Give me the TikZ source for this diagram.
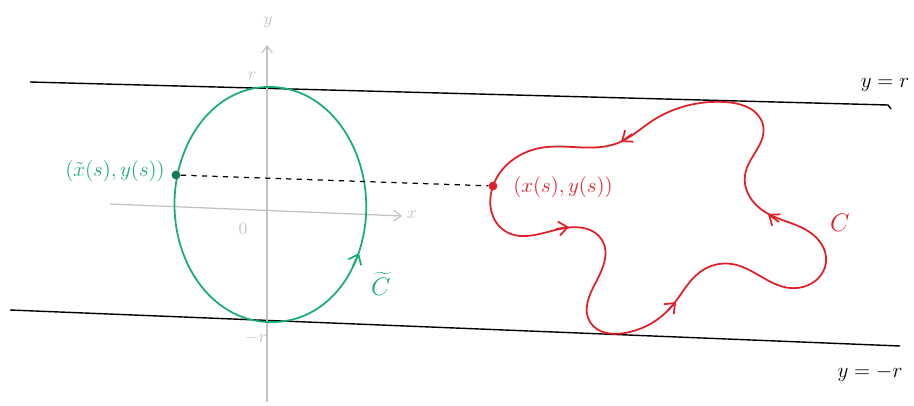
\documentclass[tikz,border=0pt]{standalone}
\usetikzlibrary{arrows.meta,hobby}
\definecolor{curvegreen}{rgb}{0.10,0.68,0.45}
\definecolor{curvered}{rgb}{0.88,0.12,0.16}
\definecolor{axisgray}{rgb}{0.76,0.76,0.76}
\tikzset{
  bandline/.style={black, line width=0.8pt},
  axisline/.style={axisgray, line width=0.7pt},
  greenpath/.style={curvegreen, line width=1pt},
  redpath/.style={curvered, line width=1pt},
  tipmark/.style={-{Straight Barb[length=5pt,width=8pt]}, line width=1pt},
  pointdot/.style={circle, inner sep=0pt, minimum size=5pt},
}
\begin{document}
\begin{tikzpicture}[x=0.02cm, y=-0.02cm]
\useasboundingbox (0,0) rectangle (914,406);
% the band |y| <= r
\draw[bandline] (30,82) -- (888,105) -- (891,109);
\draw[bandline] (10,310) -- (900,346);
% axes
\draw[axisline, -{Straight Barb[length=4pt,width=6pt]}] (110,204) -- (402,216);
\draw[axisline, -{Straight Barb[length=4pt,width=6pt]}] (267,402) -- (267,45);
\node[axisgray] (ylab) at (268,22) {$y$};
\node[axisgray] (xlab) at (412,215) {$x$};
\node[axisgray] (rtop) at (252,76) {$r$};
\node[axisgray] (rbot) at (256,338) {$-r$};
\node[axisgray] (orig) at (243,229) {$0$};
% band labels
\node (topeq) at (885,85) {\large$y=r$};
\node (boteq) at (870,373) {\large$y=-r$};
% the circle
\draw[greenpath, use Hobby shortcut, closed=true]
  (266,87) .. (366,198) .. (276,322) .. (175,192);
\draw[greenpath, tipmark] (353,266) -- (359,253);
\node[curvegreen] (ctilde) at (381,284) {\Large$\widetilde{C}$};
% the curve C
\draw[redpath, use Hobby shortcut, closed=true]
  (493,186) .. (505,231) .. (565,228) .. (602,240) .. (596,282)
  .. (590,322) .. (625,333) .. (672,306) .. (700,272) .. (732,264)
  .. (790,288) .. (826,262) .. (808,231) .. (765,212) .. (745,175)
  .. (763,125) .. (725,102) .. (652,121) .. (618,143) .. (540,148);
\draw[redpath, tipmark] (632,134) -- (621,142);
\draw[redpath, tipmark] (556,229) -- (569,227);
\draw[redpath, tipmark] (668,310) -- (676,302);
\draw[redpath, tipmark] (779,222) -- (768,214);
\node[curvered] (clab) at (840,223) {\Large$C$};
% the two points
\node[pointdot, fill=curvegreen!70!black] (gdot) at (176,175) {};
\node[pointdot, fill=curvered] (rdot) at (493,186) {};
\draw[dashed, line width=0.7pt] (gdot) -- (rdot);
\node[curvegreen, anchor=east] (glab) at (171,171) {\large$(\tilde{x}(s),y(s))$};
\node[curvered] (rlab) at (563,187) {\large$(x(s),y(s))$};
\end{tikzpicture}
\end{document}
